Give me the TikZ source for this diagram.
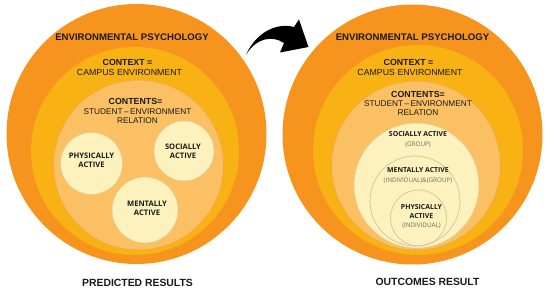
\documentclass[tikz,border=0pt]{standalone}
\usepackage{fontspec}
\setmainfont{Liberation Sans}
\newfontfamily\osans{Open Sans}
\definecolor{cOuter}{HTML}{F7941D}
\definecolor{cRing}{HTML}{F9B214}
\definecolor{cInner}{HTML}{FBC063}
\definecolor{cPale}{HTML}{FDF1BD}
\definecolor{cInnerLine}{HTML}{E9A648}
\definecolor{cPaleLine}{HTML}{DCCB95}
\definecolor{cThin}{HTML}{C9BE9E}
\definecolor{cText}{HTML}{1A1A1A}
\definecolor{cGrey}{HTML}{6E6A60}
\begin{document}
\begin{tikzpicture}[x=1pt,y=-1pt,
  outerc/.style={fill=cOuter},
  ringc/.style={fill=cRing},
  innerc/.style={fill=cInner,draw=cInnerLine,line width=0.5pt},
  palec/.style={fill=cPale,draw=cPaleLine,line width=0.5pt},
  thinc/.style={draw=cThin,line width=0.6pt},
  ttl/.style={font=\bfseries\fontsize{9.6}{10}\selectfont,text=cText,inner sep=0pt},
  lblb/.style={font=\bfseries\fontsize{8.8}{10}\selectfont,text=cText,inner sep=0pt},
  lblr/.style={font=\fontsize{8.8}{10}\selectfont,text=cText,inner sep=0pt},
  lblrs/.style={font=\fontsize{8.3}{10}\selectfont,text=cText,inner sep=0pt},
  circt/.style={font=\osans\bfseries\fontsize{7.6}{8}\selectfont,text=cText,inner sep=0pt,align=center},
  circts/.style={font=\osans\bfseries\fontsize{6.9}{7}\selectfont,text=cText,inner sep=0pt},
  subt/.style={font=\osans\fontsize{6.3}{7}\selectfont,text=cGrey,inner sep=0pt},
  capt/.style={font=\bfseries\fontsize{10.4}{12}\selectfont,text=cText,inner sep=0pt}
]
\useasboundingbox (0,0) rectangle (550,294);
\fill[white] (0,0) rectangle (550,294);

% ---------- left diagram ----------
\fill[outerc] (136.5,134) circle[radius=130pt];
\fill[ringc] (135,151) circle[radius=104pt];
\filldraw[innerc] (138.5,165) circle[radius=85pt];
\filldraw[palec] (91.5,163.5) circle[radius=31pt];
\filldraw[palec] (184,151) circle[radius=30pt];
\filldraw[palec] (145,210) circle[radius=33pt];

\node[ttl] (lep) at (132,37) {ENVIRONMENTAL PSYCHOLOGY};
\node[lblb] (lctx) at (127.5,62) {CONTEXT =};
\node[lblr] (lcamp) at (129.5,72.5) {CAMPUS ENVIRONMENT};
\node[lblb] (lcont) at (135.5,101) {CONTENTS=};
\node[lblrs] (lstud) at (137.5,111.5) {STUDENT\,--\,ENVIRONMENT};
\node[lblrs] (lrel) at (137.5,121) {RELATION};
\node[circt] (lphys) at (91.5,160.5) {PHYSICALLY\\[1pt]ACTIVE};
\node[circt] (lsoc) at (183,151.5) {SOCIALLY\\[1pt]ACTIVE};
\node[circt] (lment) at (147,208.5) {MENTALLY\\[1pt]ACTIVE};
\node[capt] (lcap) at (137.5,283) {PREDICTED RESULTS};

% ---------- right diagram ----------
\fill[outerc] (412.5,134.5) circle[radius=130pt];
\fill[ringc] (418,150) circle[radius=105pt];
\filldraw[innerc] (416,165.5) circle[radius=84.5pt];
\filldraw[palec] (416.5,185.5) circle[radius=62.5pt];
\draw[thinc] (415,201) circle[radius=45pt];
\draw[thinc] (418.5,218) circle[radius=28pt];

\node[ttl] (rep) at (412.5,37) {ENVIRONMENTAL PSYCHOLOGY};
\node[lblb] (rctx) at (408.5,62) {CONTEXT =};
\node[lblr] (rcamp) at (410,72.5) {CAMPUS ENVIRONMENT};
\node[lblb] (rcont) at (418,94) {CONTENTS=};
\node[lblrs] (rstud) at (418,104) {STUDENT\,--\,ENVIRONMENT};
\node[lblrs] (rrel) at (418,113) {RELATION};
\node[circts] (rsoc) at (418,134) {SOCIALLY ACTIVE};
\node[subt] (rgrp) at (418,144.5) {(GROUP)};
\node[circts] (rment) at (418,170.5) {MENTALLY ACTIVE};
\node[subt] (rig) at (418,180.5) {(INDIVIDUAL)\&(GROUP)};
\node[circts] (rphys) at (421.5,207) {PHYSICALLY};
\node[circts] (ract) at (421.5,216.5) {ACTIVE};
\node[subt] (rind) at (421.5,226) {(INDIVIDUAL)};
\node[capt] (rcap) at (427.5,282) {OUTCOMES RESULT};

% ---------- curved arrow ----------
\fill[black] (246,55) .. controls (255,34) and (275,22) .. (294,27)
  -- (299,19.5) -- (308.5,47) -- (280,52.5) -- (284,43)
  .. controls (272,35) and (256,38) .. cycle;
\end{tikzpicture}
\end{document}
